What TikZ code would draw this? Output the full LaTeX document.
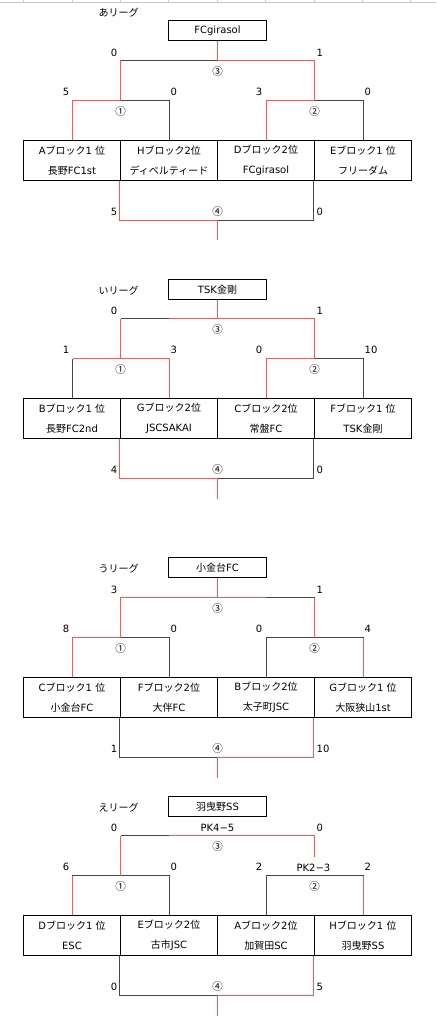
\documentclass[tikz,border=0pt]{standalone}
\usepackage{fontspec}
\setmainfont{DejaVu Sans}
\newfontfamily\jpfont{Noto Sans CJK JP}
\newcommand\jp[1]{{\jpfont #1}}
\usepackage{tikz}
\definecolor{winred}{RGB}{255,85,85}
\definecolor{losegray}{RGB}{70,70,70}
\definecolor{gridgray}{RGB}{200,200,200}
\tikzstyle{team} = [rectangle, minimum width=97pt, minimum height=40pt, inner sep=0pt, text centered, align=center, draw=black, line width=1.6pt, font=\fontsize{10}{20}\selectfont]
\tikzstyle{champ} = [rectangle, minimum width=98pt, minimum height=20pt, inner sep=0pt, text centered, draw=black, line width=1.6pt]
\tikzstyle{win} = [draw=winred, line width=1pt]
\tikzstyle{lose} = [draw=losegray, line width=1pt]
\tikzstyle{lsc} = [anchor=east, inner sep=0pt]
\tikzstyle{rsc} = [anchor=west, inner sep=0pt]
\tikzstyle{rnd} = [inner sep=0pt, font=\fontsize{10.5}{10.5}\jpfont]

\begin{document}
\begin{tikzpicture}[x=1pt, y=-1pt, node distance=97pt, font=\fontsize{10}{12}\selectfont]
  \useasboundingbox (-0.5,-0.5) rectangle (435.5,1023.5);
  \fill[white] (-0.5,-0.5) rectangle (435.5,1023.5);
  % sheet border at the top
  \draw[gridgray, line width=0.8pt] (-0.5,2) -- (435.5,2);
  \draw[gridgray, line width=0.6pt] (23,-0.5) -- (23,2) (72,-0.5) -- (72,2) (120,-0.5) -- (120,2)
    (168,-0.5) -- (168,2) (217,-0.5) -- (217,2) (265,-0.5) -- (265,2) (314,-0.5) -- (314,2)
    (362,-0.5) -- (362,2) (410,-0.5) -- (410,2);

  % あリーグ
  \begin{scope}[shift={(0,140)}]
    \node (aL) at (118,-128) {\jp{あリーグ}};
    \node (aC)[champ] at (217,-110) {FCgirasol};
    \node (a1)[team] at (71.5,20) {A\jp{ブロック}1 \jp{位}\\\jp{長野}FC1st};
    \node (a2)[team, right of=a1] {H\jp{ブロック}2\jp{位}\\\jp{ディベルティード}};
    \node (a3)[team, right of=a2] {D\jp{ブロック}2\jp{位}\\FCgirasol};
    \node (a4)[team, right of=a3] {E\jp{ブロック}1 \jp{位}\\\jp{フリーダム}};
    \coordinate (aS1) at (120,-40); \coordinate (aS2) at (314,-40);
    \coordinate (aF1) at (120,-80); \coordinate (aF) at (217,-80); \coordinate (aF2) at (314,-80);
    \coordinate (aB) at (217,80); \coordinate (aE) at (217,100);
    \draw[lose] (a2.north) |- (aS1);
    \draw[win] (a1.north) |- (aS1) -- (aF1);
    \draw[lose] (a4.north) |- (aS2);
    \draw[win] (a3.north) |- (aS2) -- (aF2);
    \draw[lose] (aF1) -- (aF);
    \draw[win] (aF2) -- (aF) -- (aC);
    \draw[lose] (a4.south west) |- (aB);
    \draw[win] (a2.south west) |- (aB) -- (aE);
    \node (aFl)[lsc] at (117,-88) {0}; \node (aFr)[rsc] at (316,-88) {1};
    \node (aS1l)[lsc] at (69,-49) {5}; \node (aS1r)[rsc] at (170,-49) {0};
    \node (aS2l)[lsc] at (262,-49) {3}; \node (aS2r)[rsc] at (364,-49) {0};
    \node (aBl)[lsc] at (117,71) {5}; \node (aBr)[rsc] at (316,71) {0};
    \node (aR3)[rnd] at (217,-69) {③}; \node (aR1)[rnd] at (120,-29) {①};
    \node (aR2)[rnd] at (314,-29) {②}; \node (aR4)[rnd] at (217,71) {④};
  \end{scope}

  % いリーグ
  \begin{scope}[shift={(0,398)}]
    \node (bL) at (118,-108) {\jp{いリーグ}};
    \node (bC)[champ] at (217,-109) {TSK\jp{金剛}};
    \node (b1)[team] at (71.5,20) {B\jp{ブロック}1 \jp{位}\\\jp{長野}FC2nd};
    \node (b2)[team, right of=b1] {G\jp{ブロック}2\jp{位}\\JSCSAKAI};
    \node (b3)[team, right of=b2] {C\jp{ブロック}2\jp{位}\\\jp{常盤}FC};
    \node (b4)[team, right of=b3] {F\jp{ブロック}1 \jp{位}\\TSK\jp{金剛}};
    \coordinate (bS0) at (72,-40); \coordinate (bS1) at (120,-40); \coordinate (bS2) at (314,-40);
    \coordinate (bF1) at (120,-80); \coordinate (bFa) at (168,-80); \coordinate (bF) at (217,-80);
    \coordinate (bF2) at (314,-80);
    \coordinate (bB) at (217,80); \coordinate (bE) at (217,100);
    \draw[lose] (b1.north) -- (b1.north |- bS0);
    \draw[win] (bS0) -- (bS1) -| (b2.north);
    \draw[lose] (b4.north) |- (bS2);
    \draw[win] (b3.north) |- (bS2) -- (bF2);
    \draw[win] (bS1) -- (bF1);
    \draw[lose] (bF1) -- (bFa);
    \draw[win] (bF2) -- (bFa);
    \draw[win] (bF) -- (bC);
    \draw[lose] (b4.south west) |- (bB);
    \draw[win] (b2.south west) |- (bB) -- (bE);
    \node (bFl)[lsc] at (117,-88) {0}; \node (bFr)[rsc] at (316,-88) {1};
    \node (bS1l)[lsc] at (69,-49) {1}; \node (bS1r)[rsc] at (170,-49) {3};
    \node (bS2l)[lsc] at (262,-49) {0}; \node (bS2r)[rsc] at (364,-49) {10};
    \node (bBl)[lsc] at (117,71) {4}; \node (bBr)[rsc] at (316,71) {0};
    \node (bR3)[rnd] at (217,-69) {③}; \node (bR1)[rnd] at (120,-29) {①};
    \node (bR2)[rnd] at (314,-29) {②}; \node (bR4)[rnd] at (217,71) {④};
  \end{scope}

  % うリーグ
  \begin{scope}[shift={(0,677)}]
    \node (cL) at (118,-109) {\jp{うリーグ}};
    \node (cC)[champ] at (217,-110) {\jp{小金台}FC};
    \node (c1)[team] at (71.5,20) {C\jp{ブロック}1 \jp{位}\\\jp{小金台}FC};
    \node (c2)[team, right of=c1] {F\jp{ブロック}2\jp{位}\\\jp{大伴}FC};
    \node (c3)[team, right of=c2] {B\jp{ブロック}2\jp{位}\\\jp{太子町}JSC};
    \node (c4)[team, right of=c3] {G\jp{ブロック}1 \jp{位}\\\jp{大阪狭山}1st};
    \coordinate (cS1) at (120,-40); \coordinate (cS2) at (314,-40);
    \coordinate (cF1) at (120,-80); \coordinate (cF) at (217,-80); \coordinate (cFa) at (265,-80);
    \coordinate (cF2) at (314,-80);
    \coordinate (cB) at (217,80); \coordinate (cE) at (217,100);
    \draw[lose] (c2.north) |- (cS1);
    \draw[win] (c1.north) |- (cS1) -- (cF1) -- (cFa);
    \draw[lose] (c3.north) |- (cS2);
    \draw[lose] (cS2) -| (c4.north);
    \draw[win] (c4.north) -- (c4.north |- cS2);
    \draw[win] (cS2) -- (cF2);
    \draw[lose] (cF2) -- (cFa);
    \draw[win] (cF) -- (cC);
    \draw[lose] (c2.south west) |- (cB);
    \draw[win] (c4.south west) |- (cB) -- (cE);
    \node (cFl)[lsc] at (117,-88) {3}; \node (cFr)[rsc] at (316,-88) {1};
    \node (cS1l)[lsc] at (69,-49) {8}; \node (cS1r)[rsc] at (170,-49) {0};
    \node (cS2l)[lsc] at (262,-49) {0}; \node (cS2r)[rsc] at (364,-49) {4};
    \node (cBl)[lsc] at (117,71) {1}; \node (cBr)[rsc] at (316,71) {10};
    \node (cR3)[rnd] at (217,-69) {③}; \node (cR1)[rnd] at (120,-29) {①};
    \node (cR2)[rnd] at (314,-29) {②}; \node (cR4)[rnd] at (217,71) {④};
  \end{scope}

  % えリーグ
  \begin{scope}[shift={(0,915)}]
    \node (dL) at (118,-108) {\jp{えリーグ}};
    \node (dC)[champ] at (217,-109) {\jp{羽曳野}SS};
    \node (d1)[team] at (71.5,20) {D\jp{ブロック}1 \jp{位}\\ESC};
    \node (d2)[team, right of=d1] {E\jp{ブロック}2\jp{位}\\\jp{古市}JSC};
    \node (d3)[team, right of=d2] {A\jp{ブロック}2\jp{位}\\\jp{加賀田}SC};
    \node (d4)[team, right of=d3] {H\jp{ブロック}1 \jp{位}\\\jp{羽曳野}SS};
    \coordinate (dS1) at (120,-40); \coordinate (dS2) at (314,-40);
    \coordinate (dF1) at (120,-80); \coordinate (dFa) at (168,-80); \coordinate (dF2) at (314,-80);
    \coordinate (dFe) at (314,-59);
    \coordinate (dB) at (217,80); \coordinate (dE) at (217,100);
    \draw[lose] (d2.north) |- (dS1);
    \draw[lose] (dS1) -- (d1.north |- dS1);
    \draw[win] (d1.north) -- (d1.north |- dS1);
    \draw[win] (dS1) -- (dF1);
    \draw[lose] (d3.north) |- (dS2);
    \draw[lose] (dS2) -| (d4.north);
    \draw[win] (d4.north) -- (d4.north |- dS2);
    \draw[lose] (dF1) -- (dFa);
    \draw[win] (dFa) -- (dF2) -- (dFe);
    \draw[lose] (d2.south west) |- (dB);
    \draw[win] (d4.south west) |- (dB) -- (dE);
    \node (dFl)[lsc] at (117,-88) {0}; \node (dFr)[rsc] at (316,-88) {0};
    \node (dPK1) at (217,-88) {PK4−5};
    \node (dS1l)[lsc] at (69,-49) {6}; \node (dS1r)[rsc] at (170,-49) {0};
    \node (dS2l)[lsc] at (262,-49) {2}; \node (dS2r)[rsc] at (364,-49) {2};
    \node (dPK2) at (313,-48) {PK2−3};
    \node (dBl)[lsc] at (117,71) {0}; \node (dBr)[rsc] at (316,71) {5};
    \node (dR3)[rnd] at (217,-69) {③}; \node (dR1)[rnd] at (120,-29) {①};
    \node (dR2)[rnd] at (314,-29) {②}; \node (dR4)[rnd] at (217,71) {④};
  \end{scope}
\end{tikzpicture}
\end{document}
